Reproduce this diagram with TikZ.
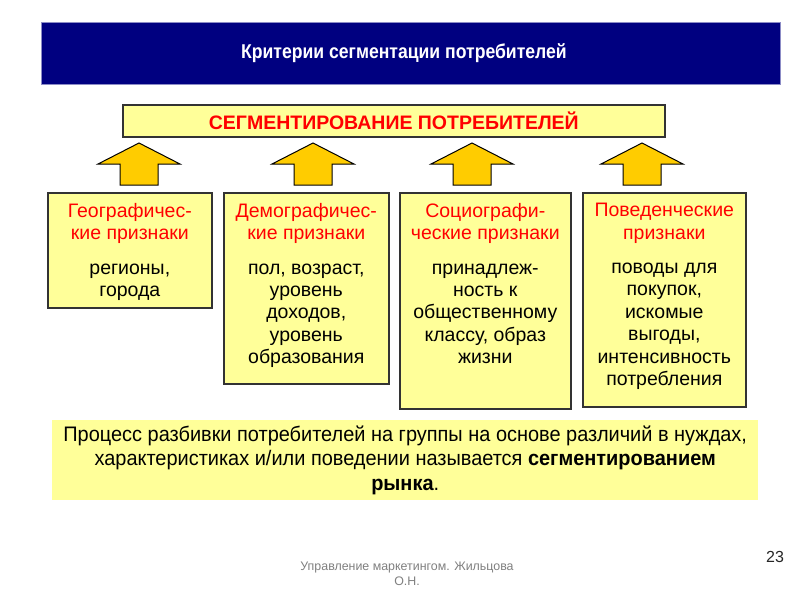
\documentclass[tikz,border=0pt]{standalone}
\usepackage{fontspec}
\setmainfont{Liberation Sans}
\newfontfamily\condfont[FakeStretch=0.88]{Liberation Sans}
\newfontfamily\bodyfont[FakeStretch=0.95]{Liberation Sans}
\definecolor{navyhd}{HTML}{000080}
\definecolor{paleyel}{HTML}{FFFF99}
\definecolor{arrowyel}{HTML}{FFCC00}
\definecolor{hdred}{HTML}{FF0000}
\begin{document}
\begin{tikzpicture}[x=1pt,y=-1pt,
  crit/.style={draw=black!80, line width=1.6pt, fill=paleyel, anchor=north west, inner sep=0pt},
  crittext/.style={anchor=north, align=center, inner sep=0pt, font=\fontsize{19.5}{22.4}\selectfont},
  uparrow/.style={fill=arrowyel, draw=black, line width=1pt, line join=miter}
]
\useasboundingbox (0,0) rectangle (800,600);
\fill[white] (0,0) rectangle (800,600);
% header
\node[fill=navyhd, draw=navyhd!45, line width=0.8pt, anchor=north west, minimum width=739pt, minimum height=62pt, inner sep=0pt] (hdr) at (41,22) {};
\node[text=white, font=\condfont\bfseries\fontsize{20}{22}\selectfont] (title) at ([xshift=-7pt]hdr.center) {Критерии сегментации потребителей};
% top box
\node[draw=black!80, line width=1.6pt, fill=paleyel, anchor=north west, minimum width=542pt, minimum height=32pt, inner sep=0pt] (top) at (122,104) {};
\node[text=hdred, font=\bfseries\fontsize{19.5}{22}\selectfont] (toptext) at (top.center) {СЕГМЕНТИРОВАНИЕ ПОТРЕБИТЕЛЕЙ};
% arrows
\foreach \cx/\nm in {139/a1,313/a2,472/a3,642/a4}{
  \coordinate (\nm) at (\cx,143);
  \draw[uparrow] (\nm) -- ++(41,21) -- ++(-22,0) -- ++(0,21) -- ++(-38,0) -- ++(0,-21) -- ++(-22,0) -- cycle;
}
% criteria boxes
\node[crit, minimum width=164pt, minimum height=115pt] (b1) at (47,192) {};
\node[crit, minimum width=165pt, minimum height=191pt] (b2) at (223,192) {};
\node[crit, minimum width=171pt, minimum height=216pt] (b3) at (399,192) {};
\node[crit, minimum width=163pt, minimum height=214pt] (b4) at (582,192) {};
\node[crittext] (t1) at ([yshift=-11pt]b1.north) {\textcolor{hdred}{Географичес-}\\\textcolor{hdred}{кие признаки}\\[12pt]регионы,\\города};
\node[crittext] (t2) at ([yshift=-11pt]b2.north) {\textcolor{hdred}{Демографичес-}\\\textcolor{hdred}{кие признаки}\\[12pt]пол, возраст,\\уровень\\доходов,\\уровень\\образования};
\node[crittext] (t3) at ([yshift=-11pt]b3.north) {\textcolor{hdred}{Социографи-}\\\textcolor{hdred}{ческие признаки}\\[12pt]принадлеж-\\ность к\\общественному\\классу, образ\\жизни};
\node[crittext] (t4) at ([yshift=-11pt]b4.north) {\textcolor{hdred}{Поведенческие}\\\textcolor{hdred}{признаки}\\[12pt]поводы для\\покупок,\\искомые\\выгоды,\\интенсивность\\потребления};
% definition box
\node[fill=paleyel, anchor=north west, minimum width=706pt, minimum height=80pt, inner sep=0pt] (def) at (52,420) {};
\node[align=center, inner sep=0pt, font=\bodyfont\fontsize{21}{24.5}\selectfont] (deftext) at (def.center) {Процесс разбивки потребителей на группы на основе различий в нуждах,\\характеристиках и/или поведении называется \textbf{сегментированием}\\\textbf{рынка}.};
% footer
\node[align=center, text=black!50, inner sep=0pt, font=\fontsize{12.4}{15}\selectfont] (foot) at (407,573.5) {Управление маркетингом. Жильцова\\О.Н.};
\node[inner sep=0pt, text=black!85, font=\fontsize{16}{18}\selectfont] (pg) at (775,557) {23};
\end{tikzpicture}
\end{document}
